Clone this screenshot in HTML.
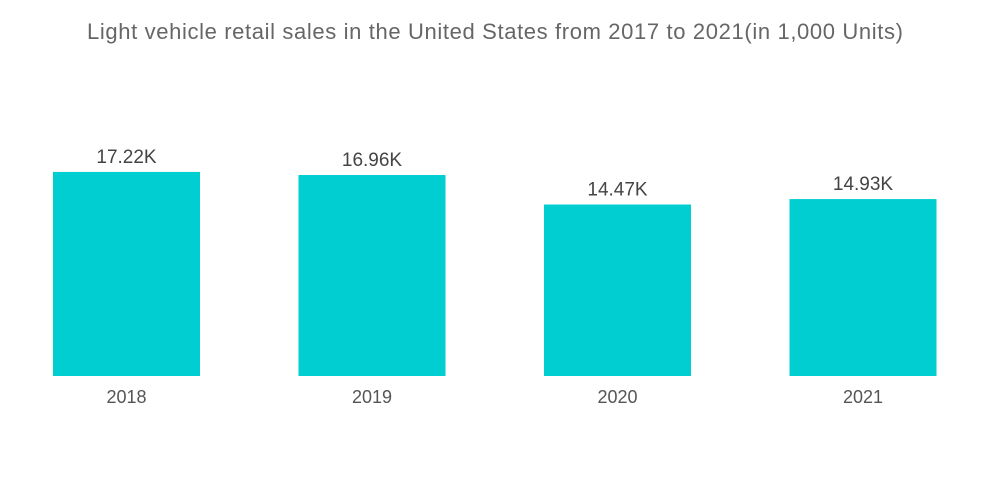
<!DOCTYPE html>
<html><head><meta charset="utf-8"><style>
body{margin:0;background:#fff;}
svg{display:block;font-family:"Liberation Sans",sans-serif;}
</style></head><body>
<svg id="chart" width="1000" height="504" viewBox="0 0 1000 504">
<text x="495" y="39" text-anchor="middle" font-size="22" fill="#666" textLength="816" lengthAdjust="spacing">Light vehicle retail sales in the United States from 2017 to 2021(in 1,000 Units)</text>
<g id="bars"></g>
</svg>
<script>
const categories = ["2018","2019","2020","2021"];
const values = [17.22,16.96,14.47,14.93];
const valueLabels = ["17.22K","16.96K","14.47K","14.93K"];
const baseY = 376, scale = 11.85, x0 = 53, step = 245.5, bw = 147;
const yPos = v => baseY - v * scale;
const xPos = i => x0 + i * step;
const g = document.getElementById('bars');
const ns = 'http://www.w3.org/2000/svg';
categories.forEach((c, i) => {
  const r = document.createElementNS(ns, 'rect');
  r.setAttribute('x', xPos(i)); r.setAttribute('y', yPos(values[i]));
  r.setAttribute('width', bw); r.setAttribute('height', baseY - yPos(values[i]));
  r.setAttribute('fill', '#00ced1');
  
  
  g.appendChild(r);
  const t = document.createElementNS(ns, 'text');
  t.setAttribute('x', xPos(i) + bw / 2); t.setAttribute('y', yPos(values[i]) - 9);
  t.setAttribute('text-anchor', 'middle'); t.setAttribute('font-size', '19'); t.setAttribute('fill', '#444');
  t.textContent = valueLabels[i];
  
  
  g.appendChild(t);
  const a = document.createElementNS(ns, 'text');
  a.setAttribute('x', xPos(i) + bw / 2); a.setAttribute('y', 403);
  a.setAttribute('text-anchor', 'middle'); a.setAttribute('font-size', '18'); a.setAttribute('fill', '#555');
  a.textContent = c;
  
  
  g.appendChild(a);
});
</script>
</body></html>
